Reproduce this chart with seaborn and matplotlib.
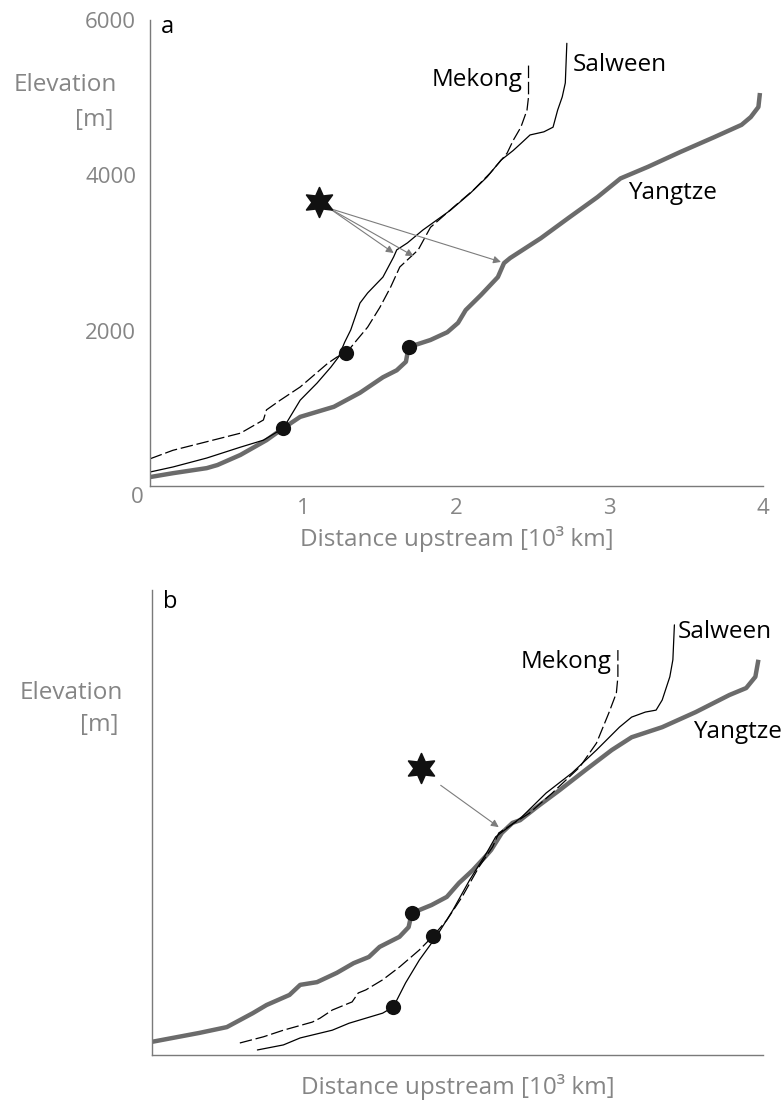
import matplotlib
matplotlib.use("Agg")
import matplotlib.pyplot as plt
import seaborn as sns
import numpy as np

# ---------------- data ----------------
# Panel a: river long profiles (distance upstream in 10^3 km, elevation in m)
yangtze_a_x = [0, 0.15, 0.37, 0.44, 0.59, 0.76, 0.87, 0.98, 1.20, 1.37, 1.52, 1.61, 1.67, 1.68, 1.69,
               1.83, 1.94, 2.01, 2.06, 2.16, 2.27, 2.31, 2.35, 2.55, 2.73, 2.92, 3.07, 3.25, 3.46,
               3.68, 3.86, 3.92, 3.97, 3.98]
yangtze_a_y = [115, 165, 230, 270, 400, 590, 745, 890, 1020, 1200, 1400, 1490, 1600, 1710, 1790,
               1880, 1980, 2100, 2265, 2460, 2690, 2870, 2935, 3190, 3450, 3720, 3960, 4110, 4300,
               4490, 4650, 4750, 4880, 5060]

mekong_a_x = [0, 0.15, 0.37, 0.59, 0.74, 0.76, 0.85, 0.98, 1.16, 1.22, 1.28, 1.35, 1.42, 1.50, 1.57,
              1.63, 1.75, 1.83, 1.98, 2.11, 2.22, 2.33, 2.37, 2.42, 2.46, 2.47, 2.47]
mekong_a_y = [350, 460, 570, 680, 850, 980, 1105, 1275, 1580, 1660, 1710, 1880, 2045, 2300, 2560,
              2820, 3040, 3330, 3590, 3810, 4030, 4285, 4450, 4620, 4840, 5010, 5420]

salween_a_x = [0, 0.15, 0.37, 0.59, 0.74, 0.87, 0.98, 1.09, 1.18, 1.23, 1.27, 1.31, 1.37, 1.42, 1.52,
               1.59, 1.61, 1.68, 1.78, 1.96, 2.09, 2.20, 2.29, 2.37, 2.42, 2.48, 2.57, 2.63, 2.66,
               2.69, 2.71, 2.72]
salween_a_y = [180, 245, 360, 500, 590, 745, 1105, 1325, 1530, 1660, 1850, 2010, 2355, 2485, 2690,
               2950, 3040, 3130, 3295, 3550, 3770, 3980, 4195, 4320, 4410, 4520, 4560, 4620, 4840,
               5010, 5190, 5700]

dots_a_x = [0.87, 1.28, 1.69]
dots_a_y = [750, 1710, 1790]

star_a = (1.10, 3655)
arrow_a_start = (1.17, 3575)
arrow_a_ends_x = [1.59, 1.72, 2.29]
arrow_a_ends_y = [3000, 2960, 2885]

# Panel b: profiles shifted so that they line up
yangtze_b_x = [0, 0.31, 0.49, 0.66, 0.75, 0.90, 0.97, 1.08, 1.21, 1.32, 1.42, 1.49, 1.62, 1.68, 1.70,
               1.83, 1.93, 2.01, 2.10, 2.18, 2.22, 2.29, 2.36, 2.41, 2.52, 2.67, 2.84, 3.01, 3.14,
               3.34, 3.56, 3.78, 3.89, 3.95, 3.97]
yangtze_b_y = [170, 285, 360, 540, 645, 775, 905, 940, 1060, 1185, 1265, 1395, 1525, 1650, 1830,
               1935, 2040, 2220, 2385, 2555, 2645, 2865, 2995, 3030, 3200, 3420, 3680, 3935, 4100,
               4230, 4425, 4645, 4735, 4880, 5100]

mekong_b_x = [0.575, 0.73, 0.86, 1.05, 1.10, 1.18, 1.31, 1.35, 1.40, 1.51, 1.62, 1.75, 1.84, 1.93,
              2.03, 2.14, 2.23, 2.27, 2.47, 2.62, 2.80, 2.91, 2.99, 3.04, 3.05, 3.05]
mekong_b_y = [155, 235, 320, 425, 475, 580, 685, 800, 840, 970, 1135, 1355, 1535, 1740,
              2040, 2425, 2685, 2865, 3120, 3380, 3715, 4025, 4410, 4670, 4880, 5225]

salween_b_x = [0.69, 0.86, 0.97, 1.18, 1.29, 1.40, 1.51, 1.58, 1.66, 1.75, 1.86, 1.97, 2.08, 2.19,
               2.25, 2.42, 2.58, 2.75, 2.91, 3.06, 3.14, 3.23, 3.30, 3.34, 3.39, 3.41, 3.42]
salween_b_y = [65, 130, 220, 320, 410, 475, 540, 620, 930, 1225, 1525, 1870, 2260, 2605,
               2815, 3070, 3380, 3640, 3935, 4230, 4360, 4425, 4450, 4580, 4880, 5100, 5550]

dots_b_x = [1.70, 1.84, 1.58]
dots_b_y = [1830, 1535, 620]

star_b = (1.76, 3700)
arrow_b_start = (1.89, 3480)
arrow_b_end = (2.27, 2940)

x_ticks = [0, 0.5, 1, 1.5, 2, 2.5, 3, 3.5, 4]
x_ticklabels_a = ["", "", "1", "", "2", "", "3", "", "4"]
y_ticks = [0, 1000, 2000, 3000, 4000, 5000, 6000]
y_ticklabels_a = ["", "", "2000", "", "4000", "", "6000"]

# ---------------- style ----------------
sns.set_theme(style="white")
plt.rcParams["font.family"] = ["Open Sans", "DejaVu Sans"]

GRAY_TXT = "#858585"
GRAY_AX = "#7a7a7a"
YANG_C = "#6b6b6b"
ARROW_C = "#7c7c7c"

W, H = 784, 1111
fig = plt.figure(figsize=(W / 100, H / 100), dpi=100)

ax_a = fig.add_axes([150 / W, 1 - 486 / H, (763 - 150) / W, (486 - 20) / H])
ax_b = fig.add_axes([152 / W, 1 - 1055 / H, (763 - 152) / W, (1055 - 590) / H])

star_marker = (6, 1, 0)


def draw_profiles(ax, yx, yy, mx, my, sx, sy, dx, dy):
    sns.lineplot(x=yx, y=yy, ax=ax, sort=False, estimator=None, color=YANG_C, lw=3.2,
                 solid_capstyle="butt")
    sns.lineplot(x=mx, y=my, ax=ax, sort=False, estimator=None, color="black", lw=0.9,
                 linestyle=(0, (10, 3)))
    sns.lineplot(x=sx, y=sy, ax=ax, sort=False, estimator=None, color="black", lw=0.9)
    sns.scatterplot(x=dx, y=dy, ax=ax, s=120, color="#111111", edgecolor="#111111",
                    linewidth=0, zorder=5)


def style_axes(ax, xlabels, ylabels):
    ax.set_xlim(0, 4)
    ax.set_ylim(0, 6000)
    ax.set_xticks(x_ticks)
    ax.set_xticklabels(xlabels)
    ax.set_yticks(y_ticks)
    ax.set_yticklabels(ylabels)
    sns.despine(ax=ax)
    for sp in ("left", "bottom"):
        ax.spines[sp].set_color(GRAY_AX)
        ax.spines[sp].set_linewidth(1.0)
    ax.tick_params(axis="both", direction="out", length=5, width=0.9, color=GRAY_AX,
                   labelcolor=GRAY_TXT, labelsize=16)
    ax.tick_params(axis="y", pad=5)
    ax.tick_params(axis="x", pad=4)
    ax.set_xlabel("Distance upstream [10³ km]", fontsize=17.5, color=GRAY_TXT, labelpad=5)
    ax.set_ylabel("")
    ax.patch.set_alpha(0)


# ---- panel a ----
draw_profiles(ax_a, yangtze_a_x, yangtze_a_y, mekong_a_x, mekong_a_y,
              salween_a_x, salween_a_y, dots_a_x, dots_a_y)
sns.scatterplot(x=[star_a[0]], y=[star_a[1]], ax=ax_a, marker=star_marker, s=460,
                color="#111111", edgecolor="#111111", linewidth=1.2, zorder=6)
for ex, ey in zip(arrow_a_ends_x, arrow_a_ends_y):
    ax_a.annotate("", xy=(ex, ey), xytext=arrow_a_start,
                  arrowprops=dict(arrowstyle="-|>", color=ARROW_C, lw=0.8,
                                  mutation_scale=11, shrinkA=0, shrinkB=0))
style_axes(ax_a, x_ticklabels_a, y_ticklabels_a)
ax_a.text(2.43, 5225, "Mekong", fontsize=17.5, ha="right", va="center", color="black")
ax_a.text(2.76, 5420, "Salween", fontsize=17.5, ha="left", va="center", color="black")
ax_a.text(3.12, 3770, "Yangtze", fontsize=17.5, ha="left", va="center", color="black")
ax_a.text(0.07, 5907, "a", fontsize=17, ha="left", va="center", color="black")
fig.text(137 / W, 1 - 498 / H, "0", fontsize=16, color=GRAY_TXT, ha="center", va="center")
fig.text(65 / W, 1 - 85 / H, "Elevation", fontsize=17.5, color=GRAY_TXT, ha="center", va="center")
fig.text(94 / W, 1 - 120 / H, "[m]", fontsize=17.5, color=GRAY_TXT, ha="center", va="center")

# ---- panel b ----
draw_profiles(ax_b, yangtze_b_x, yangtze_b_y, mekong_b_x, mekong_b_y,
              salween_b_x, salween_b_y, dots_b_x, dots_b_y)
sns.scatterplot(x=[star_b[0]], y=[star_b[1]], ax=ax_b, marker=star_marker, s=460,
                color="#111111", edgecolor="#111111", linewidth=1.2, zorder=6)
ax_b.annotate("", xy=arrow_b_end, xytext=arrow_b_start,
              arrowprops=dict(arrowstyle="-|>", color=ARROW_C, lw=0.8,
                              mutation_scale=11, shrinkA=0, shrinkB=0))
style_axes(ax_b, [""] * len(x_ticks), [""] * len(y_ticks))
ax_b.text(3.01, 5070, "Mekong", fontsize=17.5, ha="right", va="center", color="black")
ax_b.text(3.44, 5460, "Salween", fontsize=17.5, ha="left", va="center", color="black")
ax_b.text(3.54, 4170, "Yangtze", fontsize=17.5, ha="left", va="center", color="black")
ax_b.text(0.07, 5845, "b", fontsize=17, ha="left", va="center", color="black")
fig.text(71 / W, 1 - 693 / H, "Elevation", fontsize=17.5, color=GRAY_TXT, ha="center", va="center")
fig.text(99 / W, 1 - 725 / H, "[m]", fontsize=17.5, color=GRAY_TXT, ha="center", va="center")

fig.savefig("out.png", dpi=100)
